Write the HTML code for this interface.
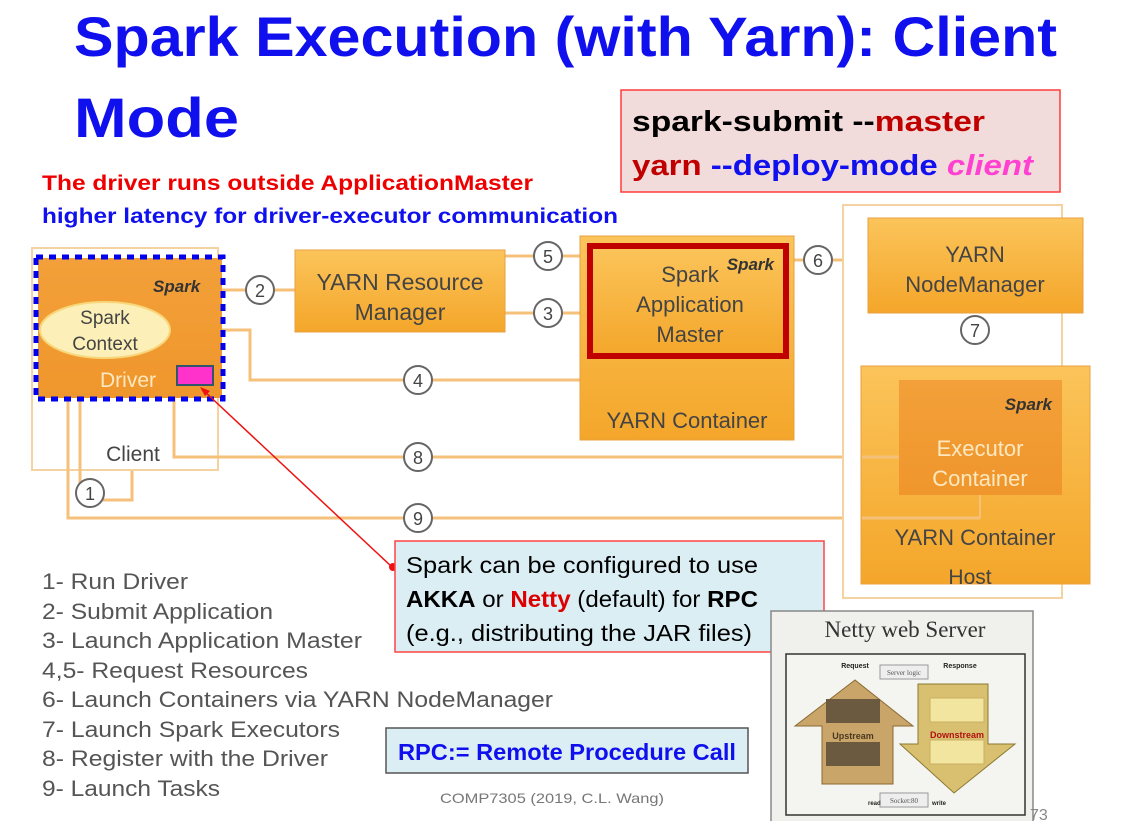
<!DOCTYPE html>
<html><head><meta charset="utf-8"><style>
html,body{margin:0;padding:0;background:#fff;}
svg{display:block;}
text{font-family:"Liberation Sans",sans-serif;}
text.serif{font-family:"Liberation Serif",serif;}
</style></head><body>
<svg width="1122" height="821" viewBox="0 0 1122 821" xmlns="http://www.w3.org/2000/svg">
<defs>
<linearGradient id="og" x1="0" y1="0" x2="0" y2="1"><stop offset="0" stop-color="#fbc45a"/><stop offset="1" stop-color="#f4a62a"/></linearGradient>
<linearGradient id="dg" x1="0" y1="0" x2="0" y2="1"><stop offset="0" stop-color="#f3a03a"/><stop offset="1" stop-color="#ef962c"/></linearGradient>
</defs>
<!-- Title -->
<text x="74" y="56" font-size="56" font-weight="bold" fill="#1010ee" textLength="983" lengthAdjust="spacingAndGlyphs">Spark Execution (with Yarn): Client</text>
<text x="74" y="137" font-size="56" font-weight="bold" fill="#1010ee" textLength="165" lengthAdjust="spacingAndGlyphs">Mode</text>
<rect x="621" y="90" width="439" height="102" fill="#f2dcdb" stroke="#ff3b3b" stroke-width="1.5"/>
<text x="632" y="131" font-size="29" font-weight="bold" textLength="353" lengthAdjust="spacingAndGlyphs"><tspan fill="#000">spark-submit  --</tspan><tspan fill="#c00000">master</tspan></text>
<text x="632" y="175" font-size="29" font-weight="bold" textLength="401" lengthAdjust="spacingAndGlyphs"><tspan fill="#c00000">yarn </tspan><tspan fill="#1010ee">--deploy-mode </tspan><tspan fill="#ff40d0" font-style="italic">client</tspan></text>
<text x="42" y="190" font-size="21" font-weight="bold" fill="#ee0000" textLength="491" lengthAdjust="spacingAndGlyphs">The driver runs outside ApplicationMaster</text>
<text x="42" y="223" font-size="21" font-weight="bold" fill="#1010ee" textLength="576" lengthAdjust="spacingAndGlyphs">higher latency for driver-executor communication</text>

<!-- connectors -->
<g stroke="#f5c07a" stroke-width="3" fill="none">
<path d="M222 290 H295"/>
<path d="M505 256 H588"/>
<path d="M505 313 H588"/>
<path d="M794 260 H868"/>
<path d="M975 313 V366"/>
<path d="M170 330 H250 V380 H688 V360"/>
<path d="M174 355 V457 H898"/>
<path d="M68 395 V518 H980 V500"/>
<path d="M80 400 V500 H132 V470"/>
</g>
<rect x="843" y="205" width="219" height="393" fill="#fff" stroke="#f5d3a0" stroke-width="2"/>
<rect x="32" y="248" width="186" height="222" fill="#fff" stroke="#f5d3a0" stroke-width="2"/>
<g stroke="#f5c07a" stroke-width="3" fill="none">
<path d="M174 355 V457 H250"/>
<path d="M68 395 V518 H100"/>
<path d="M80 400 V500"/>
</g>
<!-- driver -->
<rect x="38" y="258" width="184" height="140" fill="url(#dg)"/>
<rect x="36" y="257" width="187" height="142" fill="none" stroke="#0000ee" stroke-width="5" stroke-dasharray="7,6"/>
<text x="153" y="292" font-size="17" font-style="italic" font-weight="bold" fill="#333">Spark</text>
<ellipse cx="105" cy="330" rx="65" ry="28" fill="#fcefb8" stroke="#f7d77a" stroke-width="2"/>
<text x="105" y="324" font-size="19" fill="#444" text-anchor="middle">Spark</text>
<text x="105" y="350" font-size="19" fill="#444" text-anchor="middle">Context</text>
<text x="128" y="387" font-size="21" fill="#fde8c0" text-anchor="middle">Driver</text>
<rect x="177" y="366" width="36" height="19" fill="#ff33cc" stroke="#33556a" stroke-width="2"/>
<text x="133" y="461" font-size="21" fill="#444" text-anchor="middle">Client</text>

<!-- RM -->
<rect x="295" y="250" width="210" height="82" fill="url(#og)" stroke="#e8a040"/>
<text x="400" y="290" font-size="23" fill="#444" text-anchor="middle">YARN Resource</text>
<text x="400" y="320" font-size="23" fill="#444" text-anchor="middle">Manager</text>

<!-- AM container -->
<rect x="580" y="236" width="214" height="204" fill="url(#og)" stroke="#e8a040"/>
<rect x="590" y="246" width="196" height="110" fill="url(#og)" stroke="#c00000" stroke-width="6"/>
<text x="774" y="270" font-size="17" font-style="italic" font-weight="bold" fill="#333" text-anchor="end">Spark</text>
<text x="690" y="282" font-size="22" fill="#444" text-anchor="middle">Spark</text>
<text x="690" y="312" font-size="22" fill="#444" text-anchor="middle">Application</text>
<text x="690" y="342" font-size="22" fill="#444" text-anchor="middle">Master</text>
<text x="687" y="428" font-size="22" fill="#444" text-anchor="middle">YARN Container</text>

<!-- NodeManager -->
<rect x="868" y="218" width="215" height="95" fill="url(#og)" stroke="#e8a040"/>
<text x="975" y="262" font-size="22" fill="#444" text-anchor="middle">YARN</text>
<text x="975" y="292" font-size="22" fill="#444" text-anchor="middle">NodeManager</text>
<rect x="861" y="366" width="229" height="218" fill="url(#og)" stroke="#e8a040"/>
<rect x="899" y="380" width="163" height="115" fill="url(#dg)"/>
<path d="M980 518 V495" stroke="#f5c07a" stroke-width="2"/>
<text x="1052" y="410" font-size="17" font-style="italic" font-weight="bold" fill="#333" text-anchor="end">Spark</text>
<text x="980" y="456" font-size="22" fill="#fde8c0" text-anchor="middle">Executor</text>
<text x="980" y="486" font-size="22" fill="#fde8c0" text-anchor="middle">Container</text>
<text x="975" y="545" font-size="22" fill="#444" text-anchor="middle">YARN Container</text>
<text x="970" y="584" font-size="21" fill="#444" text-anchor="middle">Host</text>
<path d="M862 457 H899" stroke="#f5c07a" stroke-width="3"/>
<path d="M862 518 H980" stroke="#f5c07a" stroke-width="3"/>

<!-- circles -->
<g fill="#fff" stroke="#666" stroke-width="2">
<circle cx="260" cy="290" r="14"/><circle cx="548" cy="256" r="14"/><circle cx="548" cy="313" r="14"/>
<circle cx="818" cy="260" r="14"/><circle cx="975" cy="330" r="14"/><circle cx="418" cy="380" r="14"/>
<circle cx="418" cy="457" r="14"/><circle cx="418" cy="518" r="14"/><circle cx="90" cy="493" r="14"/>
</g>
<g font-size="18" fill="#444" text-anchor="middle">
<text x="260" y="297">2</text><text x="548" y="263">5</text><text x="548" y="320">3</text>
<text x="818" y="267">6</text><text x="975" y="337">7</text><text x="418" y="387">4</text>
<text x="418" y="464">8</text><text x="418" y="525">9</text><text x="90" y="500">1</text>
</g>

<!-- callout -->
<line x1="392" y1="567" x2="203" y2="390" stroke="#ee1111" stroke-width="1.5"/>
<path d="M200 387 L210 391 L205 396 Z" fill="#ee1111"/>
<circle cx="393" cy="567" r="4" fill="#ee1111"/>
<rect x="395" y="541" width="429" height="111" fill="#dbeef4" stroke="#ff4444" stroke-width="1.5"/>
<g font-size="23" fill="#000">
<text x="406" y="573" textLength="352" lengthAdjust="spacingAndGlyphs">Spark can be configured to use</text>
<text x="406" y="607" textLength="352" lengthAdjust="spacingAndGlyphs"><tspan font-weight="bold">AKKA</tspan> or <tspan font-weight="bold" fill="#dd0000">Netty</tspan> (default) for <tspan font-weight="bold">RPC</tspan></text>
<text x="406" y="641" textLength="346" lengthAdjust="spacingAndGlyphs">(e.g., distributing the JAR files)</text>
</g>

<!-- legend -->
<g font-size="22" fill="#555">
<text x="42" y="589" textLength="146" lengthAdjust="spacingAndGlyphs">1- Run Driver</text>
<text x="42" y="619" textLength="231" lengthAdjust="spacingAndGlyphs">2- Submit Application</text>
<text x="42" y="648" textLength="320" lengthAdjust="spacingAndGlyphs">3- Launch Application Master</text>
<text x="42" y="678" textLength="266" lengthAdjust="spacingAndGlyphs">4,5- Request Resources</text>
<text x="42" y="707" textLength="511" lengthAdjust="spacingAndGlyphs">6- Launch Containers via YARN NodeManager</text>
<text x="42" y="737" textLength="298" lengthAdjust="spacingAndGlyphs">7- Launch Spark Executors</text>
<text x="42" y="766" textLength="286" lengthAdjust="spacingAndGlyphs">8- Register with the Driver</text>
<text x="42" y="796" textLength="178" lengthAdjust="spacingAndGlyphs">9- Launch Tasks</text>
</g>
<rect x="386" y="728" width="362" height="45" fill="#dbeef4" stroke="#555" stroke-width="1.5"/>
<text x="398" y="760" font-size="23" font-weight="bold" fill="#1010ee" textLength="338" lengthAdjust="spacingAndGlyphs">RPC:= Remote Procedure Call</text>
<text x="440" y="803" font-size="14" fill="#777" textLength="224" lengthAdjust="spacingAndGlyphs">COMP7305 (2019, C.L. Wang)</text>

<!-- Netty -->
<rect x="771" y="611" width="262" height="212" fill="#f0f0ec" stroke="#888" stroke-width="1.5"/>
<text class="serif" x="905" y="637" font-size="23" fill="#333" text-anchor="middle">Netty web Server</text>
<rect x="786" y="654" width="239" height="161" fill="#f4f4f0" stroke="#333" stroke-width="1.5"/>
<path d="M795 726 L855 680 L913 726 L893 726 L893 784 L822 784 L822 726 Z" fill="#c9a56a" stroke="#8a6a30"/>
<path d="M900 744 L918 744 L918 684 L988 684 L988 744 L1015 744 L954 793 Z" fill="#d8c070" stroke="#8a7a30"/>
<rect x="826" y="699" width="54" height="24" fill="#6b5a40"/>
<rect x="826" y="742" width="54" height="24" fill="#6b5a40"/>
<rect x="930" y="698" width="54" height="24" fill="#f2e5a0" stroke="#c9b060"/>
<rect x="930" y="740" width="54" height="24" fill="#f2e5a0" stroke="#c9b060"/>
<text x="853" y="739" font-size="9" font-weight="bold" fill="#4a3a20" text-anchor="middle">Upstream</text>
<text x="957" y="738" font-size="9" font-weight="bold" fill="#b01010" text-anchor="middle">Downstream</text>
<rect x="880" y="665" width="48" height="14" fill="#eee" stroke="#999"/>
<text class="serif" x="904" y="675" font-size="7" fill="#555" text-anchor="middle">Server logic</text>
<rect x="880" y="793" width="48" height="14" fill="#eee" stroke="#999"/>
<text class="serif" x="904" y="803" font-size="7" fill="#555" text-anchor="middle">Socket:80</text>
<text x="855" y="668" font-size="7" font-weight="bold" fill="#222" text-anchor="middle">Request</text>
<text x="960" y="668" font-size="7" font-weight="bold" fill="#222" text-anchor="middle">Response</text>
<text x="868" y="805" font-size="6" font-weight="bold" fill="#222">read</text>
<text x="932" y="805" font-size="6" font-weight="bold" fill="#222">write</text>
<text x="1030" y="820" font-size="16" fill="#888">73</text>
</svg>
</body></html>
